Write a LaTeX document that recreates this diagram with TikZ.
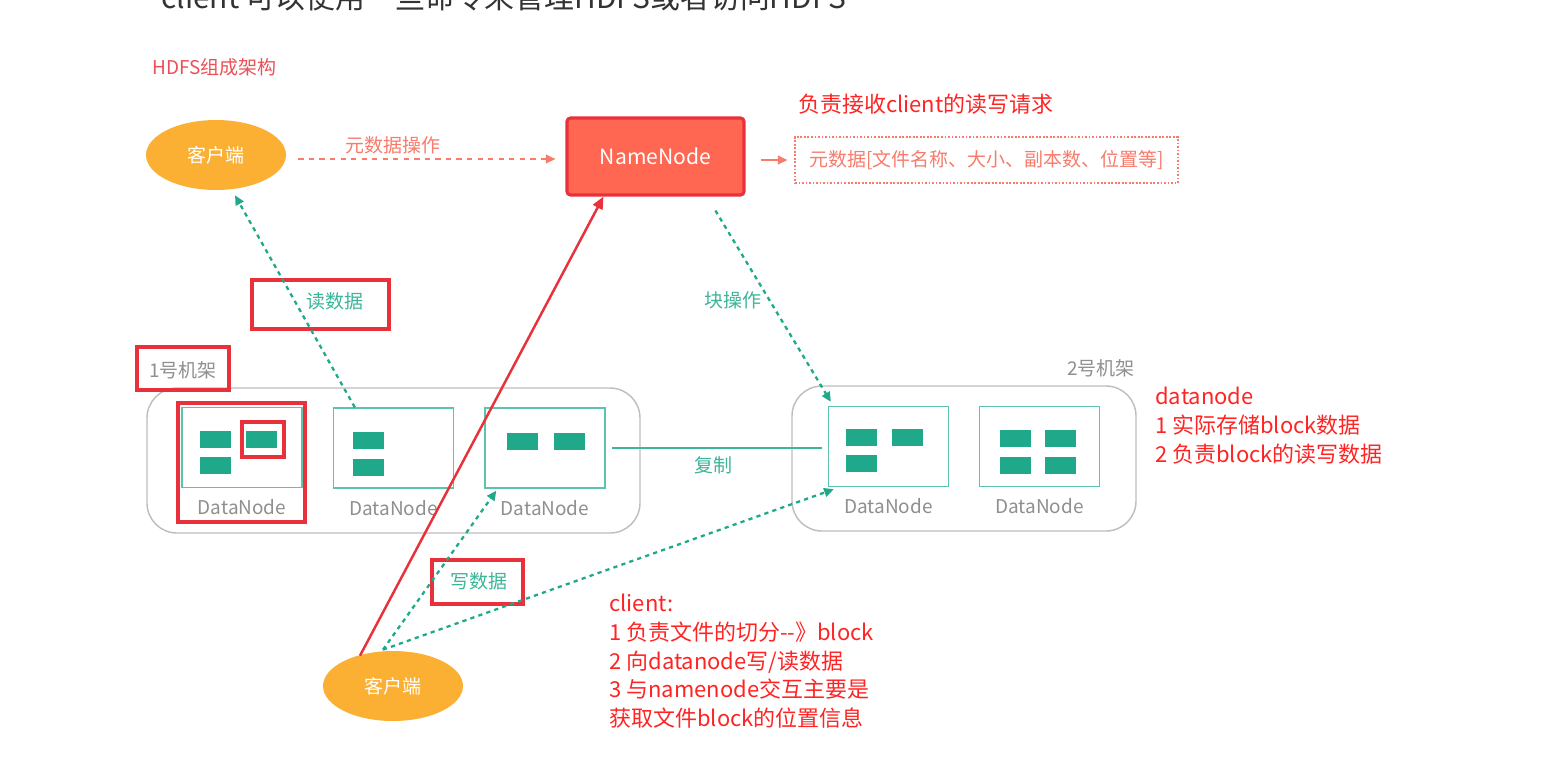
\documentclass[tikz,border=0pt]{standalone}
\usepackage{fontspec}
\setmainfont{Noto Sans CJK SC}
\usetikzlibrary{arrows.meta,positioning,shapes.geometric}
\definecolor{clientorange}{HTML}{FBB034}
\definecolor{nnfill}{HTML}{FF6752}
\definecolor{markred}{HTML}{E8313A}
\definecolor{notered}{HTML}{FF2424}
\definecolor{salmon}{HTML}{F87B6C}
\definecolor{blockteal}{HTML}{1FA98A}
\definecolor{dnteal}{HTML}{5CC4AC}
\definecolor{labelteal}{HTML}{3DB59A}
\definecolor{rackgray}{HTML}{BDBDBD}
\definecolor{textgray}{HTML}{8F8F8F}
\begin{document}
\begin{tikzpicture}[
  x=0.02cm,y=-0.02cm,
  font=\fontsize{10.8}{13}\selectfont,
  client/.style={ellipse,fill=clientorange,text=white,minimum width=2.8cm,minimum height=1.4cm,inner sep=0pt},
  dnbox/.style={draw=dnteal,line width=0.8pt,minimum width=2.4cm,minimum height=1.6cm,inner sep=0pt},
  dnlabel/.style={text=textgray,inner sep=0pt},
  rack/.style={draw=rackgray,line width=0.8pt,rounded corners=0.6cm},
  markbox/.style={draw=markred,line width=2pt},
  note/.style={text=notered,font=\fontsize{12.5}{16.3}\selectfont,align=left,inner sep=0pt},
  tealarr/.style={-{Triangle[length=5.5pt,width=5pt]},blockteal,line width=1.3pt,dash pattern=on 2.4pt off 2.4pt},
  metaarr/.style={-{Triangle[length=5.5pt,width=5pt]},salmon,line width=1.1pt,dash pattern=on 3pt off 3pt}
]
\useasboundingbox (0,0) rectangle (1541,762);
\fill[white] (0,0) rectangle (1541,762);

% cut-off heading at the top
\node[anchor=base west,inner sep=0pt,text=black!80,font=\fontsize{17}{20}\selectfont] (head) at (161,8) {client 可以使用一些命令来管理HDFS或者访问HDFS};
\node[anchor=west,inner sep=0pt,text=markred!85] (title) at (152,67) {HDFS组成架构};

% clients and namenode
\node[client] (cltop) at (216,155) {客户端};
\node[client] (clbot) at (393,686) {客户端};
\node[draw=markred,fill=nnfill,line width=1.8pt,rounded corners=2pt,minimum width=3.54cm,minimum height=1.54cm,text=white,font=\fontsize{12}{14}\selectfont] (nn) at (655.5,156.5) {NameNode};
\node[draw=salmon,line width=0.7pt,dash pattern=on 1pt off 1pt,minimum width=7.66cm,minimum height=0.92cm,text=salmon] (meta) at (986.5,160) {元数据[文件名称、大小、副本数、位置等]};
\node[note,anchor=west] (nnnote) at (798,104) {负责接收client的读写请求};

% racks
\draw[rack] (147,388) rectangle (640,533);
\draw[rack] (792,386) rectangle (1136,531);
\node[text=textgray,inner sep=0pt] (rack1) at (183,370) {1号机架};
\node[text=textgray,inner sep=0pt] (rack2) at (1101,368) {2号机架};

% datanodes
\foreach \n/\x/\y in {dna/242/447.5,dnb/393.5/448,dnc/545/448,dnd/888.5/446.5,dne/1039.5/446.5}{
  \node[dnbox] (\n) at (\x,\y) {};
  \node[dnlabel,yshift=-0.38cm] at (\n.south) {DataNode};
}
\foreach \x/\y in {200/431,246/431,200/457,353/432,353/459,507/433,554/433,
                   846/429,892/429,846/455,1000/430,1045/430,1000/457,1045/457}
  \fill[blockteal] (\x,\y) rectangle ++(31,17);

% red marks
\draw[markbox] (137,347) rectangle (229,390);
\draw[markbox] (178,403) rectangle (305,522);
\draw[markbox] (242,422) rectangle (284,457);
\draw[markbox] (252,280) rectangle (389,329);
\draw[markbox] (432,560) rectangle (523,604);

% connectors
\draw[metaarr,shorten <=0.24cm,shorten >=0.2cm] ([yshift=-0.05cm]cltop.east |- nn.west) -- ([yshift=-0.05cm]nn.west);
\node[text=salmon,inner sep=0pt] (metaop) at (393,145) {元数据操作};
\draw[-{Triangle[length=5.5pt,width=5pt]},salmon,line width=1.1pt,shorten <=0.3cm,shorten >=0.14cm] (nn.east |- meta.west) -- (meta.west);

\draw[tealarr] ([xshift=0.44cm]dnb.north west) -- ([xshift=0.38cm,yshift=-0.1cm]cltop.south);
\node[text=labelteal,inner sep=0pt] (readlbl) at (335,301) {读数据};

\draw[-{Triangle[length=7pt,width=6pt]},markred,line width=1.4pt] ([xshift=-0.66cm,yshift=-0.1cm]clbot.north) -- ([xshift=0.76cm]nn.south west);

\draw[tealarr] ([xshift=3cm,yshift=-0.28cm]nn.south west) -- ([xshift=0.06cm,yshift=0.08cm]dnd.north west);
\node[text=labelteal,inner sep=0pt] (blocklbl) at (733,300) {块操作};

\draw[labelteal,line width=1.1pt,shorten <=0.12cm,shorten >=0.12cm] (dnc.east) -- (dnc.east -| dnd.west);
\node[text=labelteal,inner sep=0pt] (copylbl) at (713,465) {复制};

\draw[tealarr] ([xshift=-0.2cm,yshift=0.02cm]clbot.north) -- ([xshift=0.24cm,yshift=-0.04cm]dnc.south west);
\draw[tealarr] ([xshift=-0.2cm,yshift=0.02cm]clbot.north) -- ([xshift=0.12cm,yshift=-0.04cm]dnd.south west);
\node[text=labelteal,inner sep=0pt] (writelbl) at (479,581) {写数据};

% notes
\node[note,anchor=north west] (dnnote) at (1155,387) {datanode\\1 实际存储block数据\\2 负责block的读写数据};
\node[note,anchor=north west] (clnote) at (609,594) {client:\\1 负责文件的切分-{}-》block\\2 向datanode写/读数据\\3 与namenode交互主要是\\获取文件block的位置信息};
\end{tikzpicture}
\end{document}
